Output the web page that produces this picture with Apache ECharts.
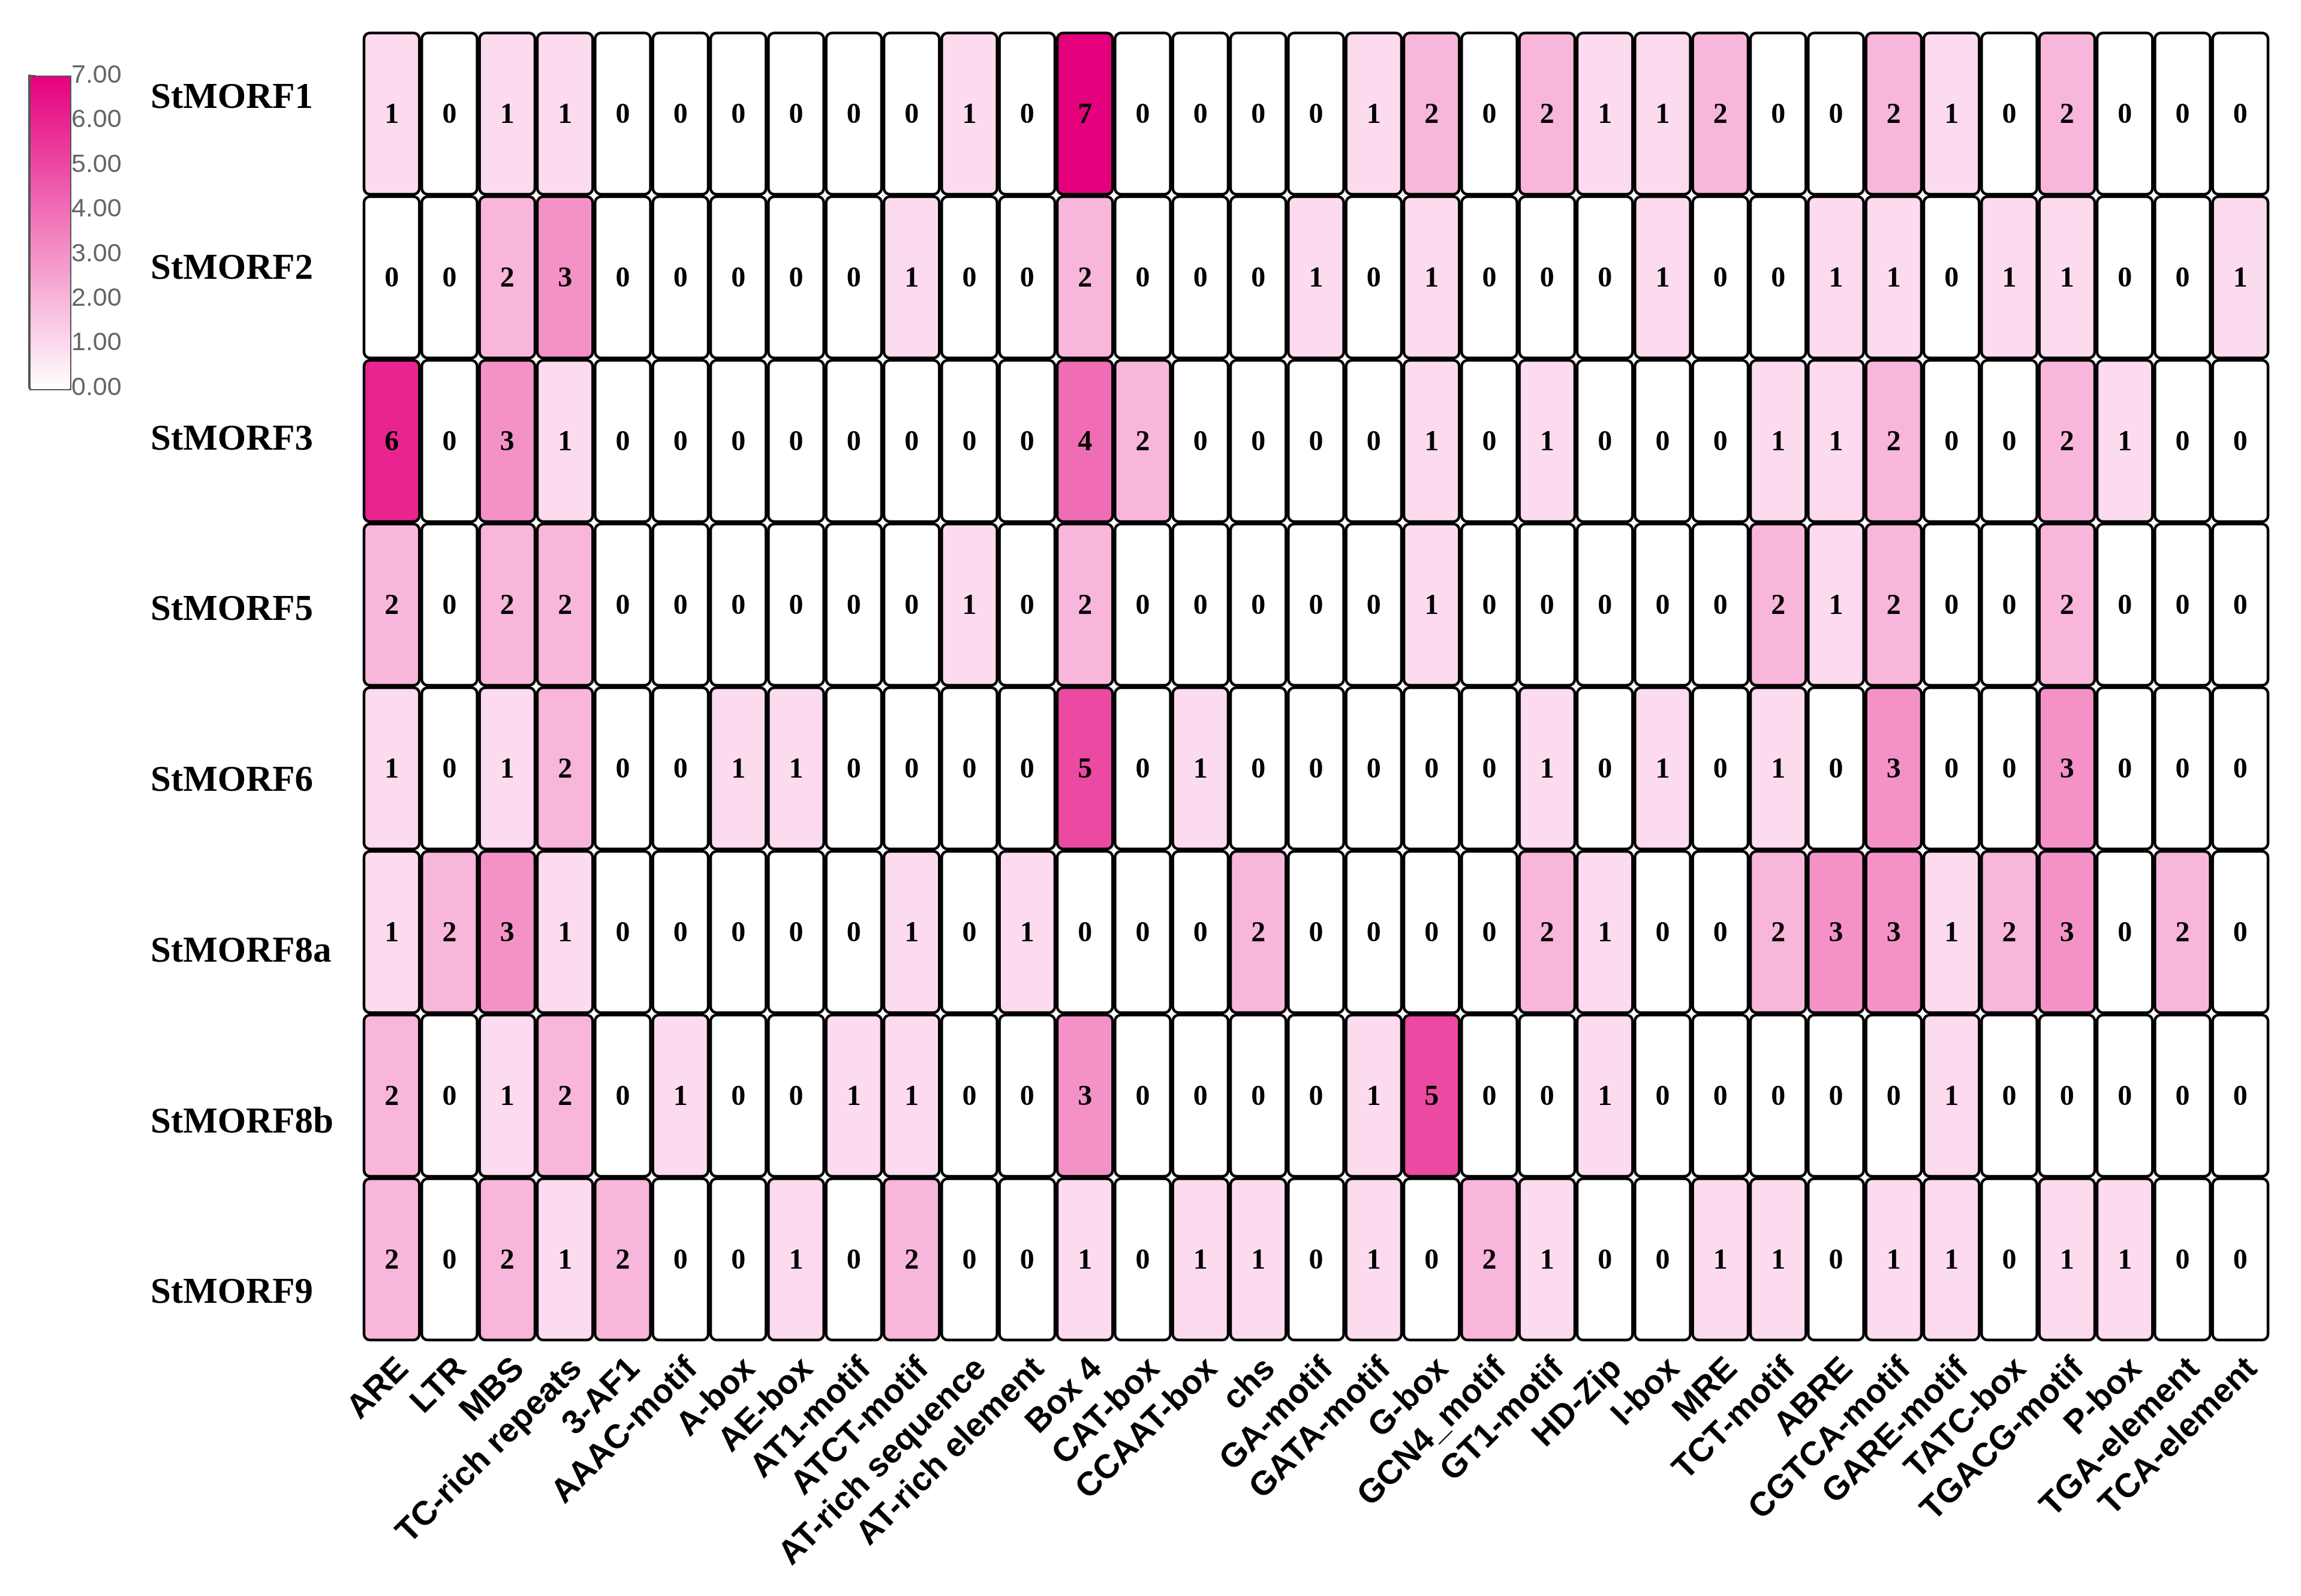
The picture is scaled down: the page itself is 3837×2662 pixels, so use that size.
<!DOCTYPE html>
<html>
<head>
<meta charset="utf-8">
<title>StMORF cis-elements</title>
<style>
  html, body { margin: 0; padding: 0; background: #fff; }
  #main { width: 3837px; height: 2662px; }
</style>
</head>
<body>
<div id="main"></div>
<script src="https://cdn.jsdelivr.net/npm/echarts@6/dist/echarts.min.js"></script>
<script>
// motif names (x axis)
var motifs = ['ARE', 'LTR', 'MBS', 'TC-rich repeats', '3-AF1', 'AAAC-motif', 'A-box', 'AE-box',
  'AT1-motif', 'ATCT-motif', 'AT-rich sequence', 'AT-rich element', 'Box 4', 'CAT-box',
  'CCAAT-box', 'chs', 'GA-motif', 'GATA-motif', 'G-box', 'GCN4_motif', 'GT1-motif', 'HD-Zip',
  'I-box', 'MRE', 'TCT-motif', 'ABRE', 'CGTCA-motif', 'GARE-motif', 'TATC-box', 'TGACG-motif',
  'P-box', 'TGA-element', 'TCA-element'];

// genes (rows, top to bottom)
var genes = ['StMORF1', 'StMORF2', 'StMORF3', 'StMORF5', 'StMORF6', 'StMORF8a', 'StMORF8b', 'StMORF9'];

// counts per gene, one value per motif
var stMORF1  = [1,0,1,1,0,0,0,0,0,0,1,0,7,0,0,0,0,1,2,0,2,1,1,2,0,0,2,1,0,2,0,0,0];
var stMORF2  = [0,0,2,3,0,0,0,0,0,1,0,0,2,0,0,0,1,0,1,0,0,0,1,0,0,1,1,0,1,1,0,0,1];
var stMORF3  = [6,0,3,1,0,0,0,0,0,0,0,0,4,2,0,0,0,0,1,0,1,0,0,0,1,1,2,0,0,2,1,0,0];
var stMORF5  = [2,0,2,2,0,0,0,0,0,0,1,0,2,0,0,0,0,0,1,0,0,0,0,0,2,1,2,0,0,2,0,0,0];
var stMORF6  = [1,0,1,2,0,0,1,1,0,0,0,0,5,0,1,0,0,0,0,0,1,0,1,0,1,0,3,0,0,3,0,0,0];
var stMORF8a = [1,2,3,1,0,0,0,0,0,1,0,1,0,0,0,2,0,0,0,0,2,1,0,0,2,3,3,1,2,3,0,2,0];
var stMORF8b = [2,0,1,2,0,1,0,0,1,1,0,0,3,0,0,0,0,1,5,0,0,1,0,0,0,0,0,1,0,0,0,0,0];
var stMORF9  = [2,0,2,1,2,0,0,1,0,2,0,0,1,0,1,1,0,1,0,2,1,0,0,1,1,0,1,1,0,1,1,0,0];

// colour bar range
var scaleMin = 0;
var scaleMax = 7;

var rows = [stMORF1, stMORF2, stMORF3, stMORF5, stMORF6, stMORF8a, stMORF8b, stMORF9];
var cells = [];
rows.forEach(function (row, j) {
  row.forEach(function (v, i) {
    cells.push([i, j, v]);
  });
});

function renderCell(params, api) {
  var c = api.coord([api.value(0), api.value(1)]);
  var s = api.size([1, 1]);
  return {
    type: 'group',
    children: [{
      type: 'rect',
      shape: { x: c[0] - s[0] / 2 + 2, y: c[1] - s[1] / 2 + 2, width: s[0] - 4, height: s[1] - 4, r: 10 },
      style: { fill: api.visual('color'), stroke: '#000', lineWidth: 4.5 }
    }, {
      type: 'text',
      style: {
        x: c[0], y: c[1] + 3,
        text: String(api.value(2)),
        fill: '#000',
        font: 'bold 48px "Liberation Serif"',
        align: 'center',
        verticalAlign: 'middle'
      }
    }]
  };
}

var myChart = echarts.init(document.getElementById('main'));

var option = {
  backgroundColor: '#fff',
  animation: false,
  grid: [
    { left: 605, top: 53, width: 3179, height: 2184 },
    { left: 600, top: 22, width: 2, height: 2278 },
    { left: 49, top: 126, width: 66, height: 521 }
  ],
  xAxis: [{
    gridIndex: 0,
    type: 'category',
    data: motifs,
    axisLine: { show: false },
    axisTick: { show: false },
    splitLine: { show: false },
    axisLabel: {
      interval: 0,
      rotate: 45,
      margin: 18,
      verticalAlign: 'top',
      color: '#000',
      fontFamily: 'Liberation Sans',
      fontWeight: 'bold',
      fontSize: 56
    }
  }, {
    gridIndex: 1, type: 'value', show: false
  }, {
    gridIndex: 2, type: 'value', show: false
  }],
  yAxis: [{
    gridIndex: 0,
    type: 'category',
    data: genes,
    inverse: true,
    axisLine: { show: false },
    axisTick: { show: false },
    axisLabel: { show: false }
  }, {
    gridIndex: 1,
    type: 'category',
    data: genes,
    inverse: true,
    axisLine: { show: false },
    axisTick: { show: false },
    axisLabel: {
      margin: 349,
      align: 'left',
      color: '#000',
      fontFamily: 'Liberation Serif',
      fontWeight: 'bold',
      fontSize: 61
    }
  }, {
    gridIndex: 2,
    type: 'value',
    position: 'right',
    min: scaleMin,
    max: scaleMax,
    interval: 1,
    splitLine: { show: false },
    axisLine: { show: true, lineStyle: { color: '#555', width: 4 } },
    axisTick: { show: true, inside: false, length: 10, lineStyle: { color: '#555', width: 3 } },
    axisLabel: {
      margin: 4,
      color: '#666',
      fontFamily: 'Liberation Sans',
      fontSize: 43,
      formatter: function (v) { return v.toFixed(2); }
    }
  }],
  visualMap: {
    type: 'continuous',
    seriesIndex: 0,
    dimension: 2,
    min: scaleMin,
    max: scaleMax,
    calculable: false,
    left: 49,
    top: 126,
    itemWidth: 66,
    itemHeight: 521,
    padding: 0,
    borderColor: '#555',
    borderWidth: 4,
    text: null,
    inRange: { color: ['#ffffff', '#e5007e'] }
  },
  series: [{
    type: 'custom',
    xAxisIndex: 0,
    yAxisIndex: 0,
    renderItem: renderCell,
    data: cells
  }]
};

myChart.setOption(option);
</script>
</body>
</html>
